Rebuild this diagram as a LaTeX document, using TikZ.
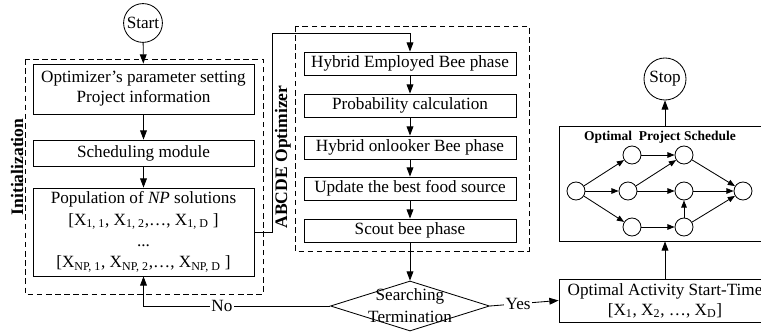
\documentclass[tikz,border=0pt]{standalone}
\usepackage{fontspec}
\setmainfont{Liberation Serif}
\usetikzlibrary{arrows.meta,shapes.geometric}

\tikzset{
  box/.style={draw, line width=.6pt, align=center, minimum width=5.525cm, inner sep=0pt},
  phase/.style={draw, line width=.6pt, minimum width=5.3cm, minimum height=.575cm, inner sep=0pt},
  term/.style={draw, circle, line width=.6pt, inner sep=0pt},
  evt/.style={draw, circle, line width=.6pt, minimum size=.45cm, inner sep=0pt},
  grp/.style={draw, dash pattern=on 4pt off 2.5pt, line width=.6pt},
  arr/.style={-{Triangle[length=2.3mm,width=1.7mm]}, line width=.6pt},
  garr/.style={-{Triangle[length=1.8mm,width=1.4mm]}, line width=.6pt}
}

\begin{document}
\begin{tikzpicture}[x=.025cm, y=-.025cm, font=\fontsize{12.2}{14.2}\selectfont]
  \useasboundingbox (0,0) rectangle (761,333);
  \clip (0,0) rectangle (761,333);

  %%initialization
  \draw[grp] (25,59) rectangle (263,294);
  \node[rotate=90, font=\fontsize{12.5}{14}\selectfont\bfseries] (initlbl) at (17,167) {Initialization};

  \node[term, minimum size=.97cm] (start) at (143,23) {Start};
  \node[box, minimum height=1.25cm] (param) at (143.5,89) {Optimizer’s parameter setting\\Project information};
  \node[box, minimum height=.65cm] (sched) at (143.5,153) {Scheduling module};
  \node[box, minimum height=2.2cm, font=\fontsize{12.2}{15.2}\selectfont] (pop) at (143.5,232)
    {Population of \textit{NP} solutions\\
     {[}X\textsubscript{1, 1}, X\textsubscript{1, 2},…, X\textsubscript{1, D} ]\\
     ...\\
     {[}X\textsubscript{NP, 1}, X\textsubscript{NP, 2},…, X\textsubscript{NP, D} ]};

  \draw[arr] (start) to (param);
  \draw[arr] (param) to (sched);
  \draw[arr] (sched) to (pop);

  %%optimizer
  \draw[grp] (295,26) rectangle (529,251);
  \node[rotate=90, font=\fontsize{12.5}{14}\selectfont\bfseries] (optlbl) at (283,157) {ABCDE Optimizer};

  \node[phase] (emp) at (410,63.5) {Hybrid Employed Bee phase};
  \node[phase] (prob) at (410,105.5) {Probability calculation};
  \node[phase] (onl) at (410,147.5) {Hybrid onlooker Bee phase};
  \node[phase] (upd) at (410,188.5) {Update the best food source};
  \node[phase] (scout) at (410,230.5) {Scout bee phase};

  \coordinate (turn) at (272,33);
  \draw[arr] (pop.east) -| (turn) -| (emp);
  \draw[arr] (emp) to (prob);
  \draw[arr] (prob) to (onl);
  \draw[arr] (onl) to (upd);
  \draw[arr] (upd) to (scout);

  %%termination
  \node[diamond, draw, line width=.6pt, inner sep=0pt, minimum width=3.975cm, minimum height=1.25cm,
        label={[align=center, font=\fontsize{12.2}{15.5}\selectfont]center:Searching\\Termination}] (term) at (410,306) {};
  \draw[arr] (scout) to (term);
  \draw[arr] (term.west) -| node[pos=.29, fill=white, inner sep=1pt] {No} (pop.south);

  %%result
  \node[draw, line width=.6pt, align=center, minimum width=5.3cm, minimum height=1.075cm, inner sep=0pt] (act) at (665,300.5)
    {Optimal Activity Start-Time\\{[}X\textsubscript{1}, X\textsubscript{2}, …, X\textsubscript{D}]};
  \draw[arr] (term.east) to node[pos=.41, fill=white, inner sep=1pt] {Yes} (act.west);

  \node[draw, line width=.6pt, minimum width=5.3cm, minimum height=2.875cm, inner sep=0pt] (plan) at (665,183.5) {};
  \node[font=\fontsize{9.6}{11}\selectfont\bfseries] (plantitle) at (660,137) {Optimal\ \ Project Schedule};
  \node[term, minimum size=1.05cm] (stop) at (665,79) {Stop};

  \draw[arr] (act) to (plan);
  \draw[arr] (plan) to (stop);

  %%schedule network
  \node[evt] (n1) at (576,191) {};
  \node[evt] (n2) at (632,155) {};
  \node[evt] (n3) at (684,155) {};
  \node[evt] (n4) at (628,191) {};
  \node[evt] (n5) at (684,191) {};
  \node[evt] (n6) at (743,191) {};
  \node[evt] (n7) at (632,227) {};
  \node[evt] (n8) at (684,227) {};

  \draw[garr] (n1) to (n2);
  \draw[garr] (n1) to (n4);
  \draw[garr] (n1) to (n7);
  \draw[garr] (n2) to (n3);
  \draw[garr] (n4) to (n3);
  \draw[garr] (n4) to (n5);
  \draw[garr] (n3) to (n6);
  \draw[garr] (n5) to (n6);
  \draw[garr] (n7) to (n8);
  \draw[garr] (n8) to (n5);
  \draw[garr] (n8) to (n6);

\end{tikzpicture}
\end{document}
